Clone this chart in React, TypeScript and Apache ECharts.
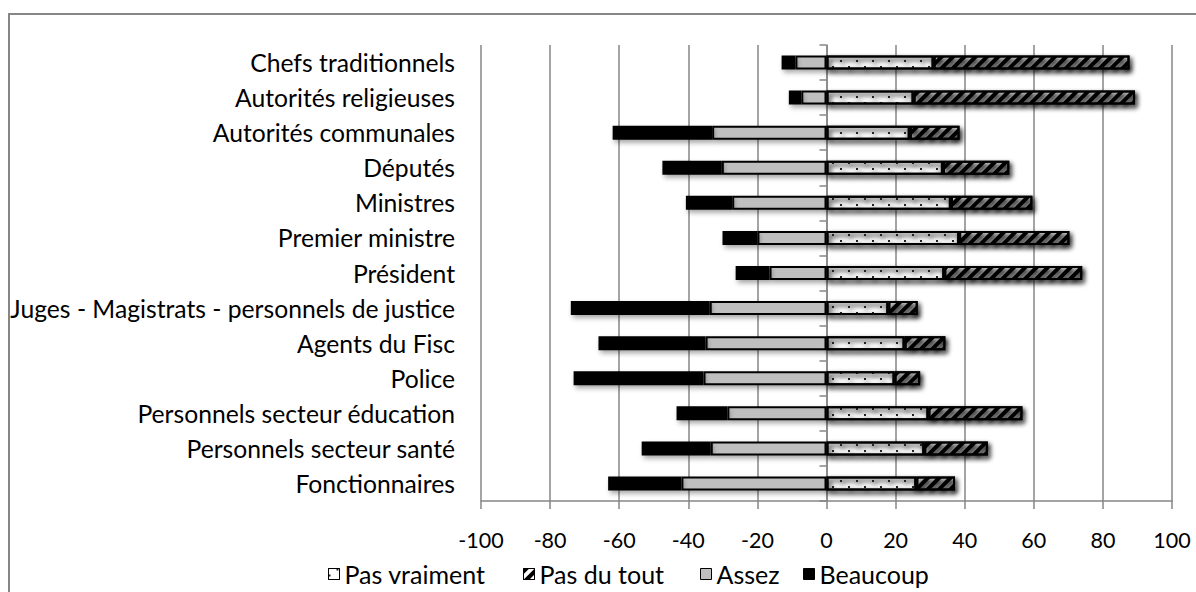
import React, { useEffect, useRef } from "react";
import * as echarts from "echarts";

const categories = [
  "Chefs traditionnels",
  "Autorités religieuses",
  "Autorités communales",
  "Députés",
  "Ministres",
  "Premier ministre",
  "Président",
  "Juges - Magistrats - personnels de justice",
  "Agents du Fisc",
  "Police",
  "Personnels secteur éducation",
  "Personnels secteur santé",
  "Fonctionnaires",
];

const pasVraiment = [31.0, 25.2, 24.1, 33.7, 36.0, 38.4, 34.1, 17.9, 22.6, 19.7, 29.5, 28.3, 26.0];
const pasDuTout = [56.7, 64.1, 14.4, 19.2, 23.6, 31.9, 39.9, 8.5, 11.8, 7.4, 27.2, 18.4, 11.2];
const assez = [-9.0, -7.3, -33.1, -30.3, -27.3, -20.0, -16.5, -33.8, -35.0, -35.6, -28.7, -33.5, -42.0];
const beaucoup = [-4.0, -3.6, -28.8, -17.2, -13.4, -10.1, -9.8, -40.2, -31.0, -37.6, -14.7, -20.0, -21.2];

const legendNames = ["Pas vraiment", "Pas du tout", "Assez", "Beaucoup"];
const legendLeft = [323, 518, 695, 798];

const FONT = "Lato";
const GRAY = "#868686";

export default function App() {
  const ref = useRef<HTMLDivElement>(null);
  useEffect(() => {
    if (!ref.current) return;
    const chart = echarts.init(ref.current, null, { renderer: "svg" });
    const baseItem = {
      borderColor: "#000",
      borderWidth: 2,
      shadowColor: "rgba(0,0,0,0.35)",
      shadowBlur: 5,
      shadowOffsetX: 2,
      shadowOffsetY: 3,
    };
    const mk = (name: string, data: number[], item: any) => ({
      name,
      type: "bar",
      stack: "total",
      barWidth: 14,
      data,
      itemStyle: { ...baseItem, ...item },
      emphasis: { disabled: true },
    });
    chart.setOption({
      animation: false,
      textStyle: { fontFamily: FONT, color: "#000" },
      grid: { left: 481, right: 24, top: 45, bottom: 91, containLabel: false, outerBoundsMode: "none" },
      xAxis: {
        type: "value",
        min: -100,
        max: 100,
        interval: 20,
        axisLine: { show: true, lineStyle: { color: GRAY, width: 1.5 } },
        axisTick: { show: true, length: 8, lineStyle: { color: GRAY, width: 1.5 } },
        splitLine: { show: true, lineStyle: { color: GRAY, width: 1.5 } },
        axisLabel: { fontFamily: FONT, fontSize: 21.5, color: "#000", margin: 27, lineHeight: 24 },
      },
      yAxis: {
        type: "category",
        inverse: true,
        data: categories,
        axisLine: { show: true, onZero: true, lineStyle: { color: GRAY, width: 1.5 } },
        axisTick: { show: true, length: 7, lineStyle: { color: GRAY, width: 1.5 } },
        axisLabel: { fontFamily: FONT, fontSize: 24.7, color: "#000", margin: 26 },
      },
      legend: legendNames.map((n, i) => ({
        data: [n],
        left: legendLeft[i],
        top: 556,
        itemWidth: 11,
        itemHeight: 11,
        icon: "rect",
        selectedMode: false,
        textStyle: { fontFamily: FONT, fontSize: 25, color: "#000", lineHeight: 26 },
        itemStyle: { shadowBlur: 0, shadowOffsetX: 0, shadowOffsetY: 0, borderWidth: 1 },
      })),
      graphic: [
        { type: "line", shape: { x1: 8, y1: 14, x2: 1196, y2: 14 }, style: { stroke: GRAY, lineWidth: 2 } },
        { type: "line", shape: { x1: 9, y1: 13, x2: 9, y2: 592 }, style: { stroke: GRAY, lineWidth: 2 } },
      ],
      series: [
        mk("Pas vraiment", pasVraiment, {
          color: "#fff",
          decal: {
            symbol: "rect",
            symbolSize: 1,
            color: "#222",
            backgroundColor: "#fff",
            dashArrayX: [[2, 14], [0, 8, 2, 6]],
            dashArrayY: [2, 4],
          },
        }),
        mk("Pas du tout", pasDuTout, {
          color: "#fff",
          decal: {
            symbol: "rect",
            symbolSize: 1,
            color: "#000",
            backgroundColor: "#fff",
            dashArrayX: [1, 0],
            dashArrayY: [3.5, 3.5],
            rotation: -Math.PI / 4,
          },
        }),
        mk("Assez", assez, { color: "#bfbfbf" }),
        mk("Beaucoup", beaucoup, { color: "#000" }),
      ],
    });
    return () => chart.dispose();
  }, []);
  return (
    <div
      ref={ref}
      style={{ position: "fixed", left: 0, top: 0, width: 1196, height: 592, background: "#fff" }}
    />
  );
}
